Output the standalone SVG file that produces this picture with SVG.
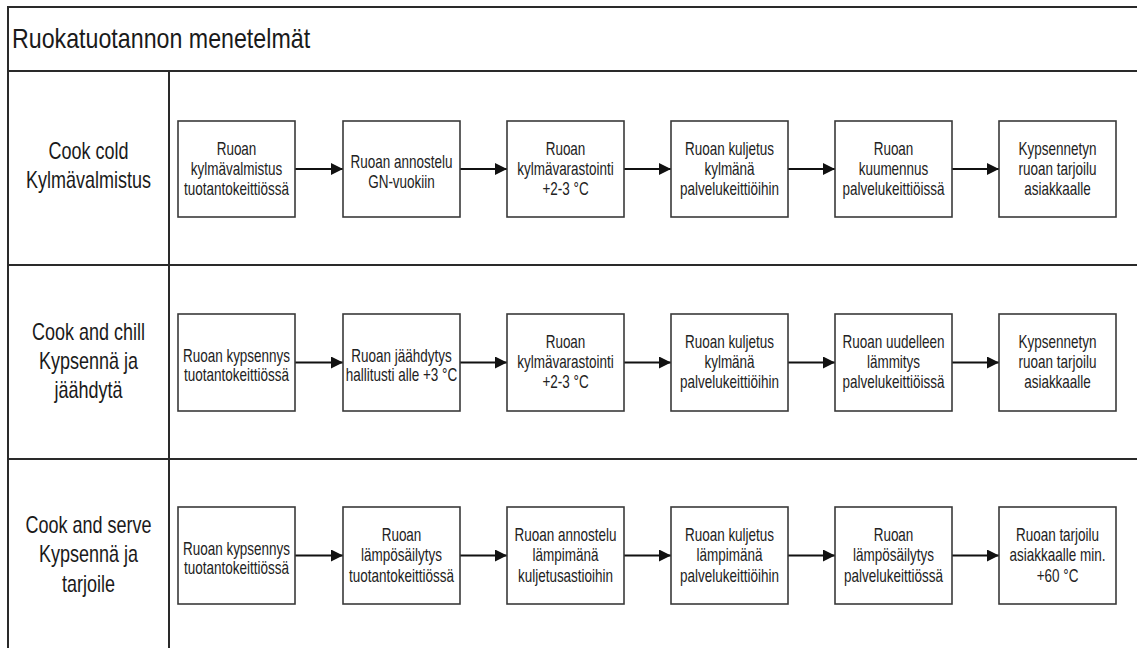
<svg xmlns="http://www.w3.org/2000/svg" width="1137" height="648" viewBox="0 0 1137 648">
<style>
.frame{fill:none;stroke:#2a2a2a;stroke-width:2}
.box{fill:#ffffff;stroke:#3a3a3a;stroke-width:1.6}
.conn{fill:none;stroke:#111;stroke-width:1.8}
.title{font-family:"Liberation Sans",Arial,sans-serif;font-size:27px;fill:#1a1a1a}
.lane{font-family:"Liberation Sans",Arial,sans-serif;font-size:24px;fill:#1a1a1a;text-anchor:middle}
.lbl{font-family:"Liberation Sans",Arial,sans-serif;font-size:18px;fill:#222;text-anchor:middle}
</style>
<defs>
<marker id="arr" markerUnits="userSpaceOnUse" markerWidth="12" markerHeight="12" refX="12" refY="6" orient="auto">
<path d="M0,0 L12,6 L0,12 z" fill="#111"/>
</marker>
</defs>
<rect width="1137" height="648" fill="#ffffff"/>
<g id="pool">
<path class="frame" d="M1137,7 H8 V648 M8,71 H1137 M8,265 H1137 M8,459 H1137 M169,71 V648"/>
<text class="title" transform="translate(12,0) scale(0.86,1)" x="0" y="48">Ruokatuotannon menetelmät</text>
</g>
<g id="lane1">
<text class="lane" transform="translate(88.5,0) scale(0.75,1)" x="0" y="159"><tspan x="0">Cook cold</tspan><tspan x="0" dy="29">Kylmävalmistus</tspan></text>
</g>
<g id="lane2">
<text class="lane" transform="translate(88.5,0) scale(0.75,1)" x="0" y="340"><tspan x="0">Cook and chill</tspan><tspan x="0" dy="29">Kypsennä ja</tspan><tspan x="0" dy="29">jäähdytä</tspan></text>
</g>
<g id="lane3">
<text class="lane" transform="translate(88.5,0) scale(0.75,1)" x="0" y="533"><tspan x="0">Cook and serve</tspan><tspan x="0" dy="29.5">Kypsennä ja</tspan><tspan x="0" dy="29.5">tarjoile</tspan></text>
</g>
<g id="connectors">
<line class="conn" x1="295" y1="169" x2="343" y2="169" marker-end="url(#arr)"/>
<line class="conn" x1="460" y1="169" x2="507" y2="169" marker-end="url(#arr)"/>
<line class="conn" x1="624" y1="169" x2="671" y2="169" marker-end="url(#arr)"/>
<line class="conn" x1="788" y1="169" x2="835" y2="169" marker-end="url(#arr)"/>
<line class="conn" x1="952" y1="169" x2="999" y2="169" marker-end="url(#arr)"/>
<line class="conn" x1="295" y1="362.5" x2="343" y2="362.5" marker-end="url(#arr)"/>
<line class="conn" x1="460" y1="362.5" x2="507" y2="362.5" marker-end="url(#arr)"/>
<line class="conn" x1="624" y1="362.5" x2="671" y2="362.5" marker-end="url(#arr)"/>
<line class="conn" x1="788" y1="362.5" x2="835" y2="362.5" marker-end="url(#arr)"/>
<line class="conn" x1="952" y1="362.5" x2="999" y2="362.5" marker-end="url(#arr)"/>
<line class="conn" x1="295" y1="555.5" x2="343" y2="555.5" marker-end="url(#arr)"/>
<line class="conn" x1="460" y1="555.5" x2="507" y2="555.5" marker-end="url(#arr)"/>
<line class="conn" x1="624" y1="555.5" x2="671" y2="555.5" marker-end="url(#arr)"/>
<line class="conn" x1="788" y1="555.5" x2="835" y2="555.5" marker-end="url(#arr)"/>
<line class="conn" x1="952" y1="555.5" x2="999" y2="555.5" marker-end="url(#arr)"/>
</g>
<!-- Row 1 -->
<g id="r1b1"><rect class="box" x="178" y="121" width="117" height="96"/>
<text class="lbl" transform="translate(236.5,0) scale(0.75,1)" x="0" y="155"><tspan x="0">Ruoan</tspan><tspan x="0" dy="20">kylmävalmistus</tspan><tspan x="0" dy="20">tuotantokeittiössä</tspan></text></g>
<g id="r1b2"><rect class="box" x="343" y="121" width="117" height="96"/>
<text class="lbl" transform="translate(401.5,0) scale(0.75,1)" x="0" y="168"><tspan x="0">Ruoan annostelu</tspan><tspan x="0" dy="20">GN-vuokiin</tspan></text></g>
<g id="r1b3"><rect class="box" x="507" y="121" width="117" height="96"/>
<text class="lbl" transform="translate(565.5,0) scale(0.75,1)" x="0" y="155"><tspan x="0">Ruoan</tspan><tspan x="0" dy="20">kylmävarastointi</tspan><tspan x="0" dy="20">+2-3 °C</tspan></text></g>
<g id="r1b4"><rect class="box" x="671" y="121" width="117" height="96"/>
<text class="lbl" transform="translate(729.5,0) scale(0.75,1)" x="0" y="155"><tspan x="0">Ruoan kuljetus</tspan><tspan x="0" dy="20">kylmänä</tspan><tspan x="0" dy="20">palvelukeittiöihin</tspan></text></g>
<g id="r1b5"><rect class="box" x="835" y="121" width="117" height="96"/>
<text class="lbl" transform="translate(893.5,0) scale(0.75,1)" x="0" y="155"><tspan x="0">Ruoan</tspan><tspan x="0" dy="20">kuumennus</tspan><tspan x="0" dy="20">palvelukeittiöissä</tspan></text></g>
<g id="r1b6"><rect class="box" x="999" y="121" width="117" height="96"/>
<text class="lbl" transform="translate(1057.5,0) scale(0.75,1)" x="0" y="155"><tspan x="0">Kypsennetyn</tspan><tspan x="0" dy="20">ruoan tarjoilu</tspan><tspan x="0" dy="20">asiakkaalle</tspan></text></g>
<!-- Row 2 -->
<g id="r2b1"><rect class="box" x="178" y="314" width="117" height="97"/>
<text class="lbl" transform="translate(236.5,0) scale(0.75,1)" x="0" y="362"><tspan x="0">Ruoan kypsennys</tspan><tspan x="0" dy="19.5">tuotantokeittiössä</tspan></text></g>
<g id="r2b2"><rect class="box" x="343" y="314" width="117" height="97"/>
<text class="lbl" transform="translate(401.5,0) scale(0.75,1)" x="0" y="362"><tspan x="0">Ruoan jäähdytys</tspan><tspan x="0" dy="19.5">hallitusti alle +3 °C</tspan></text></g>
<g id="r2b3"><rect class="box" x="507" y="314" width="117" height="97"/>
<text class="lbl" transform="translate(565.5,0) scale(0.75,1)" x="0" y="348.5"><tspan x="0">Ruoan</tspan><tspan x="0" dy="20">kylmävarastointi</tspan><tspan x="0" dy="20">+2-3 °C</tspan></text></g>
<g id="r2b4"><rect class="box" x="671" y="314" width="117" height="97"/>
<text class="lbl" transform="translate(729.5,0) scale(0.75,1)" x="0" y="348.5"><tspan x="0">Ruoan kuljetus</tspan><tspan x="0" dy="20">kylmänä</tspan><tspan x="0" dy="20">palvelukeittiöihin</tspan></text></g>
<g id="r2b5"><rect class="box" x="835" y="314" width="117" height="97"/>
<text class="lbl" transform="translate(893.5,0) scale(0.75,1)" x="0" y="348.5"><tspan x="0">Ruoan uudelleen</tspan><tspan x="0" dy="20">lämmitys</tspan><tspan x="0" dy="20">palvelukeittiöissä</tspan></text></g>
<g id="r2b6"><rect class="box" x="999" y="314" width="117" height="97"/>
<text class="lbl" transform="translate(1057.5,0) scale(0.75,1)" x="0" y="348.5"><tspan x="0">Kypsennetyn</tspan><tspan x="0" dy="20">ruoan tarjoilu</tspan><tspan x="0" dy="20">asiakkaalle</tspan></text></g>
<!-- Row 3 -->
<g id="r3b1"><rect class="box" x="178" y="507" width="117" height="97"/>
<text class="lbl" transform="translate(236.5,0) scale(0.75,1)" x="0" y="555"><tspan x="0">Ruoan kypsennys</tspan><tspan x="0" dy="19.5">tuotantokeittiössä</tspan></text></g>
<g id="r3b2"><rect class="box" x="343" y="507" width="117" height="97"/>
<text class="lbl" transform="translate(401.5,0) scale(0.75,1)" x="0" y="541"><tspan x="0">Ruoan</tspan><tspan x="0" dy="20.5">lämpösäilytys</tspan><tspan x="0" dy="20.5">tuotantokeittiössä</tspan></text></g>
<g id="r3b3"><rect class="box" x="507" y="507" width="117" height="97"/>
<text class="lbl" transform="translate(565.5,0) scale(0.75,1)" x="0" y="541"><tspan x="0">Ruoan annostelu</tspan><tspan x="0" dy="20.5">lämpimänä</tspan><tspan x="0" dy="20.5">kuljetusastioihin</tspan></text></g>
<g id="r3b4"><rect class="box" x="671" y="507" width="117" height="97"/>
<text class="lbl" transform="translate(729.5,0) scale(0.75,1)" x="0" y="541"><tspan x="0">Ruoan kuljetus</tspan><tspan x="0" dy="20.5">lämpimänä</tspan><tspan x="0" dy="20.5">palvelukeittiöihin</tspan></text></g>
<g id="r3b5"><rect class="box" x="835" y="507" width="117" height="97"/>
<text class="lbl" transform="translate(893.5,0) scale(0.75,1)" x="0" y="541"><tspan x="0">Ruoan</tspan><tspan x="0" dy="20.5">lämpösäilytys</tspan><tspan x="0" dy="20.5">palvelukeittiössä</tspan></text></g>
<g id="r3b6"><rect class="box" x="999" y="507" width="117" height="97"/>
<text class="lbl" transform="translate(1057.5,0) scale(0.75,1)" x="0" y="541"><tspan x="0">Ruoan tarjoilu</tspan><tspan x="0" dy="20.5">asiakkaalle min.</tspan><tspan x="0" dy="20.5">+60 °C</tspan></text></g>
</svg>
